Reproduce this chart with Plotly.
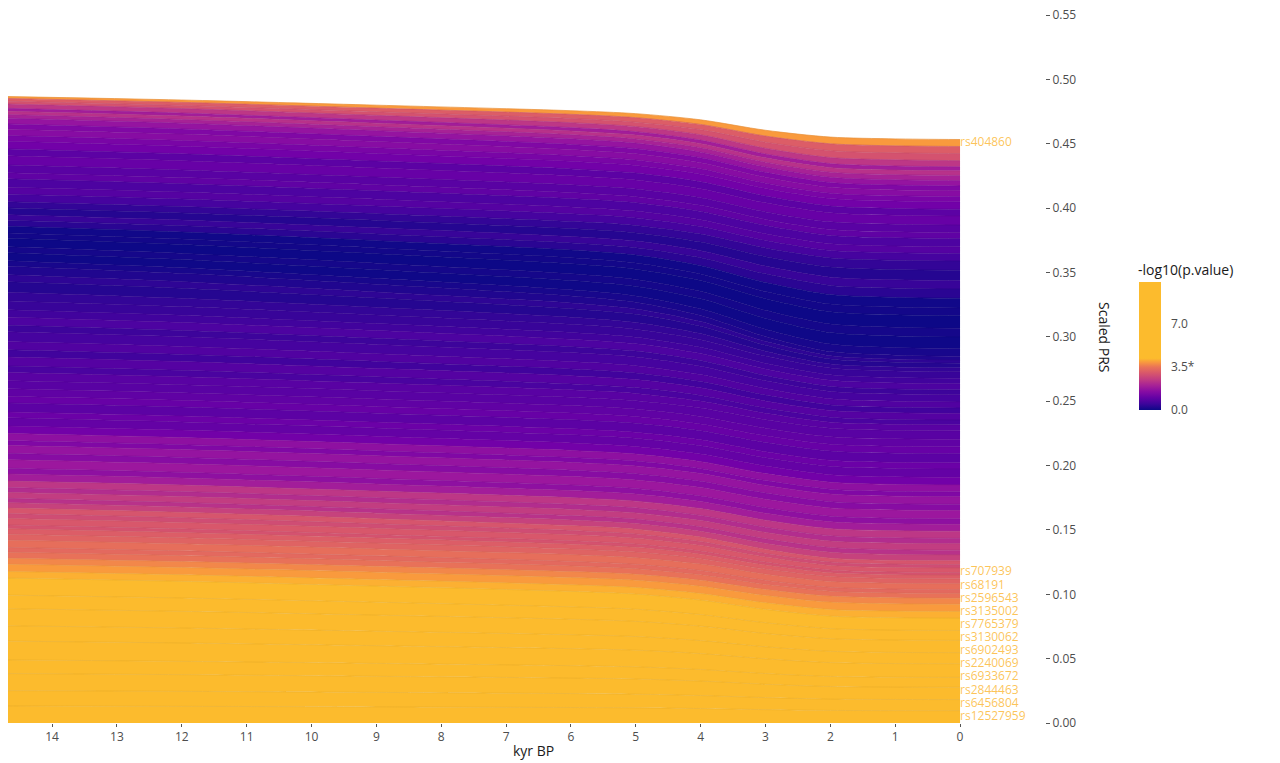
import plotly.graph_objects as go
from plotly.colors import sample_colorscale, unlabel_rgb

# ---------------- data ----------------
kyr = [14.68, 12, 9, 6, 5, 4, 3, 2, 1, 0]

# band thicknesses (scaled PRS units) at each kyr point, bottom -> top
gold_band = [0.1126, 0.1101, 0.1064, 0.1023, 0.1002, 0.0955, 0.0883, 0.0831, 0.0818, 0.0815]
orange_band = [0.0154, 0.0154, 0.0154, 0.0154, 0.0154, 0.0155, 0.0155, 0.0155, 0.0155, 0.0155]
salmon_band = [0.0187, 0.0184, 0.0180, 0.0175, 0.0172, 0.0167, 0.0158, 0.0152, 0.0150, 0.0150]
pink_band = [0.0203, 0.0198, 0.0190, 0.0182, 0.0178, 0.0168, 0.0154, 0.0143, 0.0141, 0.0140]
magenta_band = [0.0210, 0.0212, 0.0214, 0.0217, 0.0218, 0.0221, 0.0226, 0.0229, 0.0230, 0.0230]
purple_band = [0.0370, 0.0369, 0.0368, 0.0367, 0.0366, 0.0365, 0.0362, 0.0361, 0.0360, 0.0360]
violet_low_band = [0.0410, 0.0411, 0.0412, 0.0413, 0.0414, 0.0416, 0.0418, 0.0419, 0.0420, 0.0420]
blueviolet_band = [0.0620, 0.0607, 0.0588, 0.0567, 0.0556, 0.0532, 0.0495, 0.0468, 0.0462, 0.0460]
blue_low_band = [0.0270, 0.0258, 0.0240, 0.0221, 0.0210, 0.0188, 0.0153, 0.0128, 0.0122, 0.0120]
navy_band = [0.0310, 0.0321, 0.0338, 0.0356, 0.0366, 0.0387, 0.0419, 0.0443, 0.0449, 0.0450]
blue_up_band = [0.0190, 0.0198, 0.0210, 0.0223, 0.0230, 0.0245, 0.0268, 0.0285, 0.0289, 0.0290]
violet_up_band = [0.0470, 0.0469, 0.0468, 0.0467, 0.0466, 0.0465, 0.0462, 0.0461, 0.0460, 0.0460]
purple_up_band = [0.0180, 0.0179, 0.0177, 0.0175, 0.0174, 0.0172, 0.0168, 0.0166, 0.0165, 0.0165]
magenta_up_band = [0.0110, 0.0114, 0.0119, 0.0125, 0.0128, 0.0135, 0.0145, 0.0153, 0.0155, 0.0155]
pink_top_band = [0.0043, 0.0048, 0.0056, 0.0065, 0.0070, 0.0080, 0.0095, 0.0107, 0.0109, 0.0110]
top_snp_band = [0.0015, 0.0018, 0.0023, 0.0028, 0.0031, 0.0036, 0.0045, 0.0052, 0.0054, 0.0054]

# -log10(p) of the SNP layers in each band, and their relative widths
gold_logp = [9.5, 8.8, 7.9, 7.2, 6.5, 6.0, 5.4, 4.9, 4.5]
gold_w = [1.0, 0.9, 1.0, 0.8, 1.1, 0.9, 1.0, 0.8, 1.0]
orange_logp = [4.1, 3.9, 3.7]
orange_w = [1.0, 1.1, 0.9]
salmon_logp = [3.45, 3.3, 3.4, 3.2]
salmon_w = [1.0, 0.8, 1.2, 1.0]
pink_logp = [3.1, 2.9, 3.0, 2.8, 2.95]
pink_w = [1.0, 0.7, 1.2, 0.9, 1.0]
magenta_logp = [2.6, 2.3, 2.5, 2.2, 2.4]
magenta_w = [1.0, 0.8, 1.1, 0.9, 1.2]
purple_logp = [1.9, 1.6, 1.8, 1.5, 1.7, 1.4, 1.6]
purple_w = [1.0, 0.8, 1.2, 0.9, 1.1, 0.7, 1.0]
violet_low_logp = [1.2, 1.0, 1.1, 0.9, 1.05, 0.95, 0.85]
violet_low_w = [1.0, 1.1, 0.8, 1.2, 0.9, 1.0, 1.1]
blueviolet_logp = [0.85, 0.65, 0.8, 0.55, 0.75, 0.6, 0.5, 0.7, 0.55, 0.45]
blueviolet_w = [1.0, 0.8, 1.1, 0.9, 1.0, 1.2, 0.8, 1.0, 0.9, 1.1]
blue_low_logp = [0.4, 0.25, 0.35, 0.2]
blue_low_w = [1.0, 1.2, 0.8, 1.0]
navy_logp = [0.12, 0.02, 0.08, 0.0, 0.06, 0.04]
navy_w = [0.8, 1.2, 0.9, 1.3, 0.8, 1.0]
blue_up_logp = [0.3, 0.45, 0.25, 0.4]
blue_up_w = [1.0, 0.9, 1.1, 1.0]
violet_up_logp = [0.6, 0.8, 0.7, 0.95, 0.85, 1.05, 0.9, 1.2]
violet_up_w = [1.0, 0.9, 1.1, 0.8, 1.0, 1.2, 0.9, 1.0]
purple_up_logp = [1.3, 1.5, 1.4, 1.7]
purple_up_w = [1.0, 1.1, 0.9, 1.0]
magenta_up_logp = [2.0, 2.3, 1.9, 2.4]
magenta_up_w = [1.0, 0.9, 0.8, 1.2]
pink_top_logp = [2.9, 3.1]
pink_top_w = [1.0, 1.0]
top_snp_logp = [3.9]
top_snp_w = [1.0]

# labelled SNPs (bottom -> top for the lower group)
bottom_snps = ["rs12527959", "rs6456804", "rs2844463", "rs6933672", "rs2240069",
               "rs6902493", "rs3130062", "rs7765379", "rs3135002", "rs2596543",
               "rs68191", "rs707939"]
top_snp = "rs404860"

bar_ticks = [0, 3.5, 7]
bar_ticktext = ["0.0", "3.5*", "7.0"]
x_ticks = list(range(0, 15))
y_ticks = [0.0, 0.05, 0.10, 0.15, 0.20, 0.25, 0.30, 0.35, 0.40, 0.45, 0.50, 0.55]

# ---------------- colour mapping ----------------
CMAX = 10.4


def plasma_pos(v):
    if v <= 3.5:
        return 0.65 * v / 3.5
    if v <= 4.2:
        return 0.65 + 0.2 * (v - 3.5) / 0.7
    return 0.85


def col(v):
    return sample_colorscale("Plasma", [plasma_pos(v)])[0]


def darker(c, k=0.93):
    r, g, b = unlabel_rgb(c)
    return "rgb(%d,%d,%d)" % (r * k, g * k, b * k)


bar_vals = [0, 0.5, 1.0, 1.5, 2.0, 2.5, 3.0, 3.5, 3.85, 4.2, CMAX]
bar_scale = [[v / CMAX, col(v)] for v in bar_vals]

groups = [
    (gold_band, gold_logp, gold_w),
    (orange_band, orange_logp, orange_w),
    (salmon_band, salmon_logp, salmon_w),
    (pink_band, pink_logp, pink_w),
    (magenta_band, magenta_logp, magenta_w),
    (purple_band, purple_logp, purple_w),
    (violet_low_band, violet_low_logp, violet_low_w),
    (blueviolet_band, blueviolet_logp, blueviolet_w),
    (blue_low_band, blue_low_logp, blue_low_w),
    (navy_band, navy_logp, navy_w),
    (blue_up_band, blue_up_logp, blue_up_w),
    (violet_up_band, violet_up_logp, violet_up_w),
    (purple_up_band, purple_up_logp, purple_up_w),
    (magenta_up_band, magenta_up_logp, magenta_up_w),
    (pink_top_band, pink_top_logp, pink_top_w),
    (top_snp_band, top_snp_logp, top_snp_w),
]

fig = go.Figure()
layers = []
for band, logps, ws in groups:
    tot = sum(ws)
    for v, w in zip(logps, ws):
        layers.append(([b * w / tot for b in band], v))

centers_end = []
cum = 0.0
for ys, v in layers:
    c = col(v)
    fig.add_trace(go.Scatter(
        x=kyr, y=ys, stackgroup="prs", mode="lines",
        line=dict(width=0.7, color=darker(c), shape="spline", smoothing=0.8),
        fillcolor=c, hoverinfo="skip", showlegend=False))
    centers_end.append(cum + ys[-1] / 2)
    cum += ys[-1]

# label positions: layer centres at 0 kyr, pushed apart (repel)
GAP = 0.0102
lab_y = []
prev = -1.0
for i in range(len(bottom_snps)):
    yv = max(centers_end[i], prev + GAP)
    lab_y.append(yv)
    prev = yv
lab_text = bottom_snps + [top_snp]
lab_y.append(centers_end[-1])

fig.add_trace(go.Scatter(
    x=[0] * len(lab_text), y=lab_y, mode="text", text=lab_text,
    textposition="middle right",
    textfont=dict(family="Open Sans", size=12, color="rgba(252,186,60,0.85)"),
    hoverinfo="skip", showlegend=False, cliponaxis=False))

# colour bar
fig.add_trace(go.Scatter(
    x=[None], y=[None], mode="markers", showlegend=False, hoverinfo="skip",
    marker=dict(color=[0], cmin=0, cmax=CMAX, colorscale=bar_scale, showscale=True,
                colorbar=dict(
                    tickvals=bar_ticks, ticktext=bar_ticktext,
                    ticks="outside", ticklen=8, tickcolor="rgba(0,0,0,0)",
                    tickfont=dict(family="Open Sans", size=12, color="#4d4d4d"),
                    outlinewidth=0, thickness=22, len=128, lenmode="pixels",
                    xref="container", yref="container",
                    x=1131 / 1280, xanchor="left",
                    y=1 - 292 / 763, yanchor="top", ypad=0, xpad=0))))

# plot area: screen x 8..1045, screen y 8..723 (page has an 8px body margin)
fig.update_layout(
    width=1280, height=763,
    margin=dict(l=0, r=243, t=0, b=48, autoexpand=False),
    paper_bgcolor="white", plot_bgcolor="white",
    font=dict(family="Open Sans", color="#4d4d4d"),
    xaxis=dict(range=[14.68, -1.31], tickvals=x_ticks, ticktext=[str(t) for t in x_ticks],
               ticks="outside", ticklen=3, tickcolor="#555", showgrid=False, zeroline=False,
               showline=False, tickfont=dict(size=12, color="#4d4d4d")),
    yaxis=dict(range=[0, 0.5556], side="right", tickvals=y_ticks,
               ticktext=["%.2f" % t for t in y_ticks], ticks="outside", ticklen=4,
               tickcolor="#555", showgrid=False, zeroline=False, showline=False,
               ticklabeloverflow="allow",
               tickfont=dict(size=12, color="#4d4d4d")),
    annotations=[
        dict(text="Scaled PRS", xref="paper", yref="paper",
             x=(1105 - 8) / 1037, y=(723 - 337) / 715, textangle=90,
             xanchor="center", yanchor="middle",
             showarrow=False, font=dict(family="Open Sans", size=14, color="#1a1a1a")),
        dict(text="kyr BP", xref="paper", yref="paper",
             x=(533 - 8) / 1037, y=(723 - 750) / 715, xanchor="center", yanchor="middle",
             showarrow=False, font=dict(family="Open Sans", size=14, color="#1a1a1a")),
        dict(text="-log10(p.value)", xref="paper", yref="paper",
             x=(1136 - 8) / 1037, y=(723 - 270) / 715, xanchor="left", yanchor="middle",
             showarrow=False, font=dict(family="Open Sans", size=14, color="#1a1a1a")),
    ],
)

fig.write_html("out.html")
